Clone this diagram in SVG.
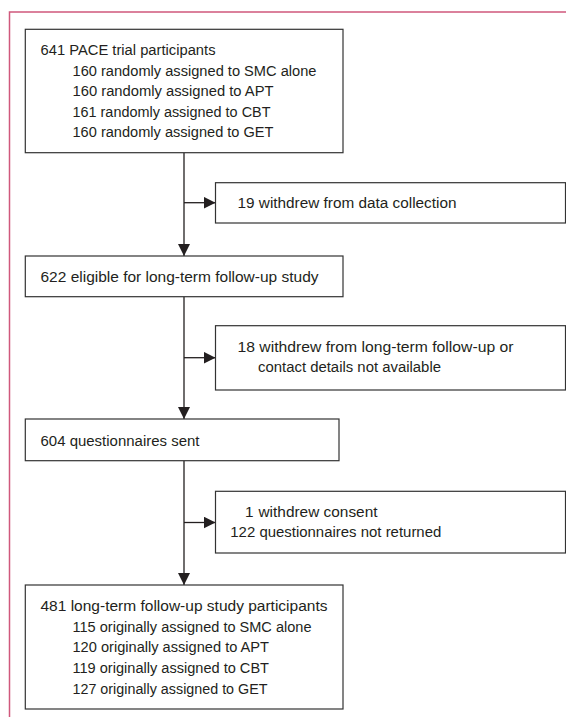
<svg xmlns="http://www.w3.org/2000/svg" width="566" height="717" viewBox="0 0 566 717">
<style>
.box{fill:#fff;stroke:#333;stroke-width:1.2}
.t{font-family:"Liberation Sans",Arial,sans-serif;font-size:15.3px;fill:#231f20}
.c{fill:none;stroke:#231f20;stroke-width:1.3}
.frame{fill:none;stroke:#d0587c;stroke-width:1.5}
</style>
<defs>
<marker id="ah" viewBox="0 0 12 12" refX="12" refY="6" markerWidth="12" markerHeight="12" markerUnits="userSpaceOnUse" orient="auto">
<path d="M0,0 L12,6 L0,12 z" fill="#231f20"/>
</marker>
</defs>
<rect width="566" height="717" fill="#fff"/>
<path class="frame" d="M566,12 H9.5 V717"/>

<g id="connectors">
<line class="c" x1="184" y1="152.7" x2="184" y2="256" marker-end="url(#ah)"/>
<line class="c" x1="184" y1="202.7" x2="215.5" y2="202.7" marker-end="url(#ah)"/>
<line class="c" x1="184" y1="296.7" x2="184" y2="419" marker-end="url(#ah)"/>
<line class="c" x1="184" y1="357.7" x2="215.5" y2="357.7" marker-end="url(#ah)"/>
<line class="c" x1="184" y1="460.7" x2="184" y2="585" marker-end="url(#ah)"/>
<line class="c" x1="184" y1="522.5" x2="215.5" y2="522.5" marker-end="url(#ah)"/>
</g>

<g id="n1">
<rect class="box" x="25.3" y="29.3" width="317.7" height="123.4"/>
<text class="t" x="40.5" y="55" textLength="175" lengthAdjust="spacingAndGlyphs">641 PACE trial participants</text>
<text class="t" x="72.5" y="75.5" textLength="244" lengthAdjust="spacingAndGlyphs">160 randomly assigned to SMC alone</text>
<text class="t" x="72.5" y="96" textLength="201" lengthAdjust="spacingAndGlyphs">160 randomly assigned to APT</text>
<text class="t" x="72.5" y="116.5" textLength="198" lengthAdjust="spacingAndGlyphs">161 randomly assigned to CBT</text>
<text class="t" x="72.5" y="137" textLength="201" lengthAdjust="spacingAndGlyphs">160 randomly assigned to GET</text>
</g>

<g id="s1">
<rect class="box" x="215.5" y="182.7" width="350" height="40.3"/>
<text class="t" x="237.5" y="208.3" textLength="219" lengthAdjust="spacingAndGlyphs">19 withdrew from data collection</text>
</g>

<g id="n2">
<rect class="box" x="25.3" y="256" width="317.7" height="40.7"/>
<text class="t" x="40.5" y="281.7" textLength="278" lengthAdjust="spacingAndGlyphs">622 eligible for long-term follow-up study</text>
</g>

<g id="s2">
<rect class="box" x="215.5" y="325.7" width="350" height="64.3"/>
<text class="t" x="237.5" y="351.7" textLength="276" lengthAdjust="spacingAndGlyphs">18 withdrew from long-term follow-up or</text>
<text class="t" x="258" y="371.7" textLength="183" lengthAdjust="spacingAndGlyphs">contact details not available</text>
</g>

<g id="n3">
<rect class="box" x="25.3" y="419" width="313.7" height="41.7"/>
<text class="t" x="40.5" y="445.7" textLength="159" lengthAdjust="spacingAndGlyphs">604 questionnaires sent</text>
</g>

<g id="s3">
<rect class="box" x="215.5" y="491.3" width="350" height="61.7"/>
<text class="t" x="245" y="516.5">1</text>
<text class="t" x="258.5" y="516.5" textLength="119" lengthAdjust="spacingAndGlyphs">withdrew consent</text>
<text class="t" x="230.3" y="537" textLength="211" lengthAdjust="spacingAndGlyphs">122 questionnaires not returned</text>
</g>

<g id="n4">
<rect class="box" x="25.3" y="585" width="317.7" height="124"/>
<text class="t" x="40.5" y="610.7" textLength="287" lengthAdjust="spacingAndGlyphs">481 long-term follow-up study participants</text>
<text class="t" x="72.5" y="631.5" textLength="239" lengthAdjust="spacingAndGlyphs">115 originally assigned to SMC alone</text>
<text class="t" x="72.5" y="652.3" textLength="196.5" lengthAdjust="spacingAndGlyphs">120 originally assigned to APT</text>
<text class="t" x="72.5" y="673" textLength="196.5" lengthAdjust="spacingAndGlyphs">119 originally assigned to CBT</text>
<text class="t" x="72.5" y="694" textLength="195" lengthAdjust="spacingAndGlyphs">127 originally assigned to GET</text>
</g>
</svg>
